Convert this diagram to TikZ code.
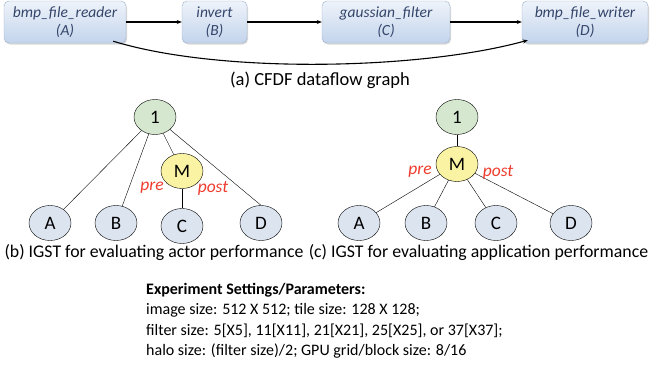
\documentclass[tikz,border=0pt]{standalone}
\usepackage{fontspec}
\setmainfont{Carlito}
\usetikzlibrary{arrows.meta,shapes.geometric,shadows}

\definecolor{boxtop}{HTML}{EEF3FA}
\definecolor{boxbot}{HTML}{C3D4EC}
\definecolor{boxline}{HTML}{9DB0CB}
\definecolor{boxtext}{HTML}{34456A}
\definecolor{rootfill}{HTML}{D5E8CF}
\definecolor{midfill}{HTML}{FAF3A3}
\definecolor{leaffill}{HTML}{DCE4F0}
\definecolor{labelred}{HTML}{EE3B2E}

\begin{document}
\begin{tikzpicture}
[x=1pt,y=-1pt,
 actordecorate/.style={shape=rectangle,rounded corners=5pt,draw=boxline,
   top color=boxtop,bottom color=boxbot,minimum height=42pt,inner sep=0pt,
   align=center,text=boxtext,font=\fontsize{15.5}{18}\selectfont\itshape,
   drop shadow={opacity=0.3,shadow xshift=1pt,shadow yshift=-1.5pt}},%
 flowdecorate/.style={-{Stealth[length=5pt,width=4pt]},line width=1.1pt},%
 treedecorate/.style={shape=ellipse,draw,minimum width=42pt,minimum height=35pt,
   inner sep=0pt,font=\fontsize{19}{21}\selectfont},%
 linedecorate/.style={-,thin},%
 labeldecorate/.style={text=labelred,font=\fontsize{17.5}{19}\selectfont\itshape},%
 captiondecorate/.style={font=\fontsize{17.8}{20}\selectfont}]
\useasboundingbox (0,0) rectangle (650,370);
%% actors of the dataflow graph
\foreach \nodename/\x/\w/\txt/\lbl in {reader/65/122/bmp\_file\_reader/A,
  invert/214.5/65/invert/B, gauss/386/128/gaussian\_filter/C,
  writer/585/126/bmp\_file\_writer/D}
{
  \node (\nodename) at (\x,22) [actordecorate,minimum width=\w pt] {\txt\\(\lbl)};
}
%% dataflow edges
\path
\foreach \startnode/\endnode in {reader/invert, invert/gauss, gauss/writer} {
  (\startnode) edge[flowdecorate] (\endnode)
};
\draw[flowdecorate] ([xshift=-13pt,yshift=2pt]reader.south east)
  .. controls (220,74) and (420,70) .. ([xshift=6pt,yshift=3pt]writer.south west);
\node (capa) at (320,80) [captiondecorate,font=\fontsize{18.5}{20}\selectfont] {(a) CFDF dataflow graph};
%% IGST for actor performance
\foreach \nodename/\x/\y/\txt/\fillc in {b1/155/117/1/rootfill, bM/182/171/M/midfill,
  bA/50/223/A/leaffill, bB/116/223/B/leaffill, bC/182/226/C/leaffill, bD/261/223/D/leaffill}
{
  \node (\nodename) at (\x,\y) [treedecorate,fill=\fillc] {\txt};
}
\path
\foreach \startnode/\endnode in {b1/bA, b1/bB, b1/bM, b1/bD.north, bM/bC} {
  (\startnode) edge[linedecorate] (\endnode)
};
\node (bpre) at (152,188) [labeldecorate] {pre};
\node (bpost) at (213,188) [labeldecorate] {post};
\node (capb) at (154,253) [captiondecorate] {(b) IGST for evaluating actor performance};
%% IGST for application performance
\foreach \nodename/\x/\y/\txt/\fillc in {c1/457/117/1/rootfill, cM/457/164/M/midfill,
  cA/359/223/A/leaffill, cB/426/223/B/leaffill, cC/496/223/C/leaffill, cD/571/223/D/leaffill}
{
  \node (\nodename) at (\x,\y) [treedecorate,fill=\fillc] {\txt};
}
\path
\foreach \startnode/\endnode in {c1/cM, cM/cA, cM/cB, cM/cC, cM/cD} {
  (\startnode) edge[linedecorate] (\endnode)
};
\node (cpre) at (420,172) [labeldecorate] {pre};
\node (cpost) at (498,172) [labeldecorate] {post};
\node (capc) at (478.5,253) [captiondecorate] {(c) IGST for evaluating application performance};
%% experiment settings
\node (settings) at (146,283) [anchor=north west,align=left,inner sep=0pt,
  font=\fontsize{16}{20.3}\selectfont] {\textbf{Experiment Settings/Parameters:}\\
  image size: 512 X 512; tile size: 128 X 128;\\
  filter size: 5[X5], 11[X11], 21[X21], 25[X25], or 37[X37];\\
  halo size: (filter size)/2; GPU grid/block size: 8/16};
\end{tikzpicture}
\end{document}
